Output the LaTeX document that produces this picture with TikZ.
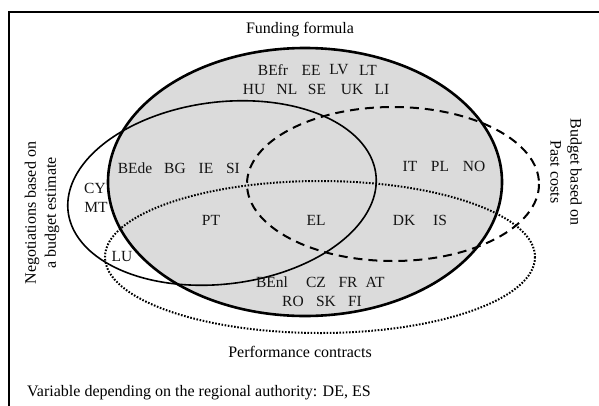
\documentclass[tikz,border=0pt]{standalone}
\usepackage{fontspec}
\setmainfont{Liberation Serif}
\begin{document}
\begin{tikzpicture}[x=1pt,y=-1pt,
  lbl/.style={font=\fontsize{16}{20}\selectfont, inner sep=0pt},
  cc/.style={font=\fontsize{15.5}{18}\selectfont, inner sep=0pt, text=black!92},
  fund/.style={line width=2.6pt},
  nego/.style={line width=1.6pt},
  past/.style={line width=2pt, dash pattern=on 9pt off 6pt},
  perf/.style={line width=2pt, dash pattern=on 1.6pt off 1.6pt}]
\useasboundingbox (0,0) rectangle (599,405);
\clip (0,0) rectangle (599,405);
\fill[white] (0,0) rectangle (599,405);
\draw[line width=1.2pt] (9,420) -- (9,12) -- (620,12);
% ellipses
\fill[black!14] (305,182) ellipse [x radius=197, y radius=134];
\draw[nego] plot[smooth cycle, samples=120, domain=0:357, variable=\t]
  ({222+155*cos(\t)*cos(7)+91*sin(\t)*sin(7)}, {193-155*cos(\t)*sin(7)+91*sin(\t)*cos(7)});
\draw[past] (393,184) ellipse [x radius=146, y radius=77];
\draw[perf] (320,257) ellipse [x radius=215, y radius=76];
\draw[fund] (305,182) ellipse [x radius=197, y radius=134];
% labels
\node[lbl] (ff) at (300,30) {Funding formula};
\node[lbl] (pc) at (300,352) {Performance contracts};
\node[lbl, anchor=west] (var) at (27,393) {Variable depending on the regional authority: DE, ES};
\node[lbl, rotate=90, align=center] (neg) at (42,213) {Negotiations based on\\a budget estimate};
\node[lbl, rotate=-90, align=center] (bud) at (566,172) {Budget based on\\Past costs};
% countries
\node[cc] (befr) at (273,70) {BEfr};
\node[cc] (ee) at (311,70) {EE};
\node[cc] (lv) at (339,70) {LV};
\node[cc] (lt) at (368,70) {LT};
\node[cc] (hu) at (254,89) {HU};
\node[cc] (nl) at (287,89) {NL};
\node[cc] (se) at (317,89) {SE};
\node[cc] (uk) at (352,89) {UK};
\node[cc] (li) at (382,89) {LI};
\node[cc] (bede) at (135,168) {BEde};
\node[cc] (bg) at (175,168) {BG};
\node[cc] (ie) at (206,168) {IE};
\node[cc] (si) at (233,168) {SI};
\node[cc] (it) at (410,166) {IT};
\node[cc] (pl) at (440,166) {PL};
\node[cc] (no) at (474,166) {NO};
\node[cc] (cy) at (95,188) {CY};
\node[cc] (mt) at (96,207) {MT};
\node[cc] (pt) at (211,220) {PT};
\node[cc] (el) at (316,220) {EL};
\node[cc] (dk) at (404,220) {DK};
\node[cc] (is) at (440,220) {IS};
\node[cc] (lu) at (122,256) {LU};
\node[cc] (benl) at (272,282) {BEnl};
\node[cc] (cz) at (316,282) {CZ};
\node[cc] (fr) at (348,282) {FR};
\node[cc] (at) at (375,282) {AT};
\node[cc] (ro) at (293,301) {RO};
\node[cc] (sk) at (326,301) {SK};
\node[cc] (fi) at (355,301) {FI};
\end{tikzpicture}
\end{document}
